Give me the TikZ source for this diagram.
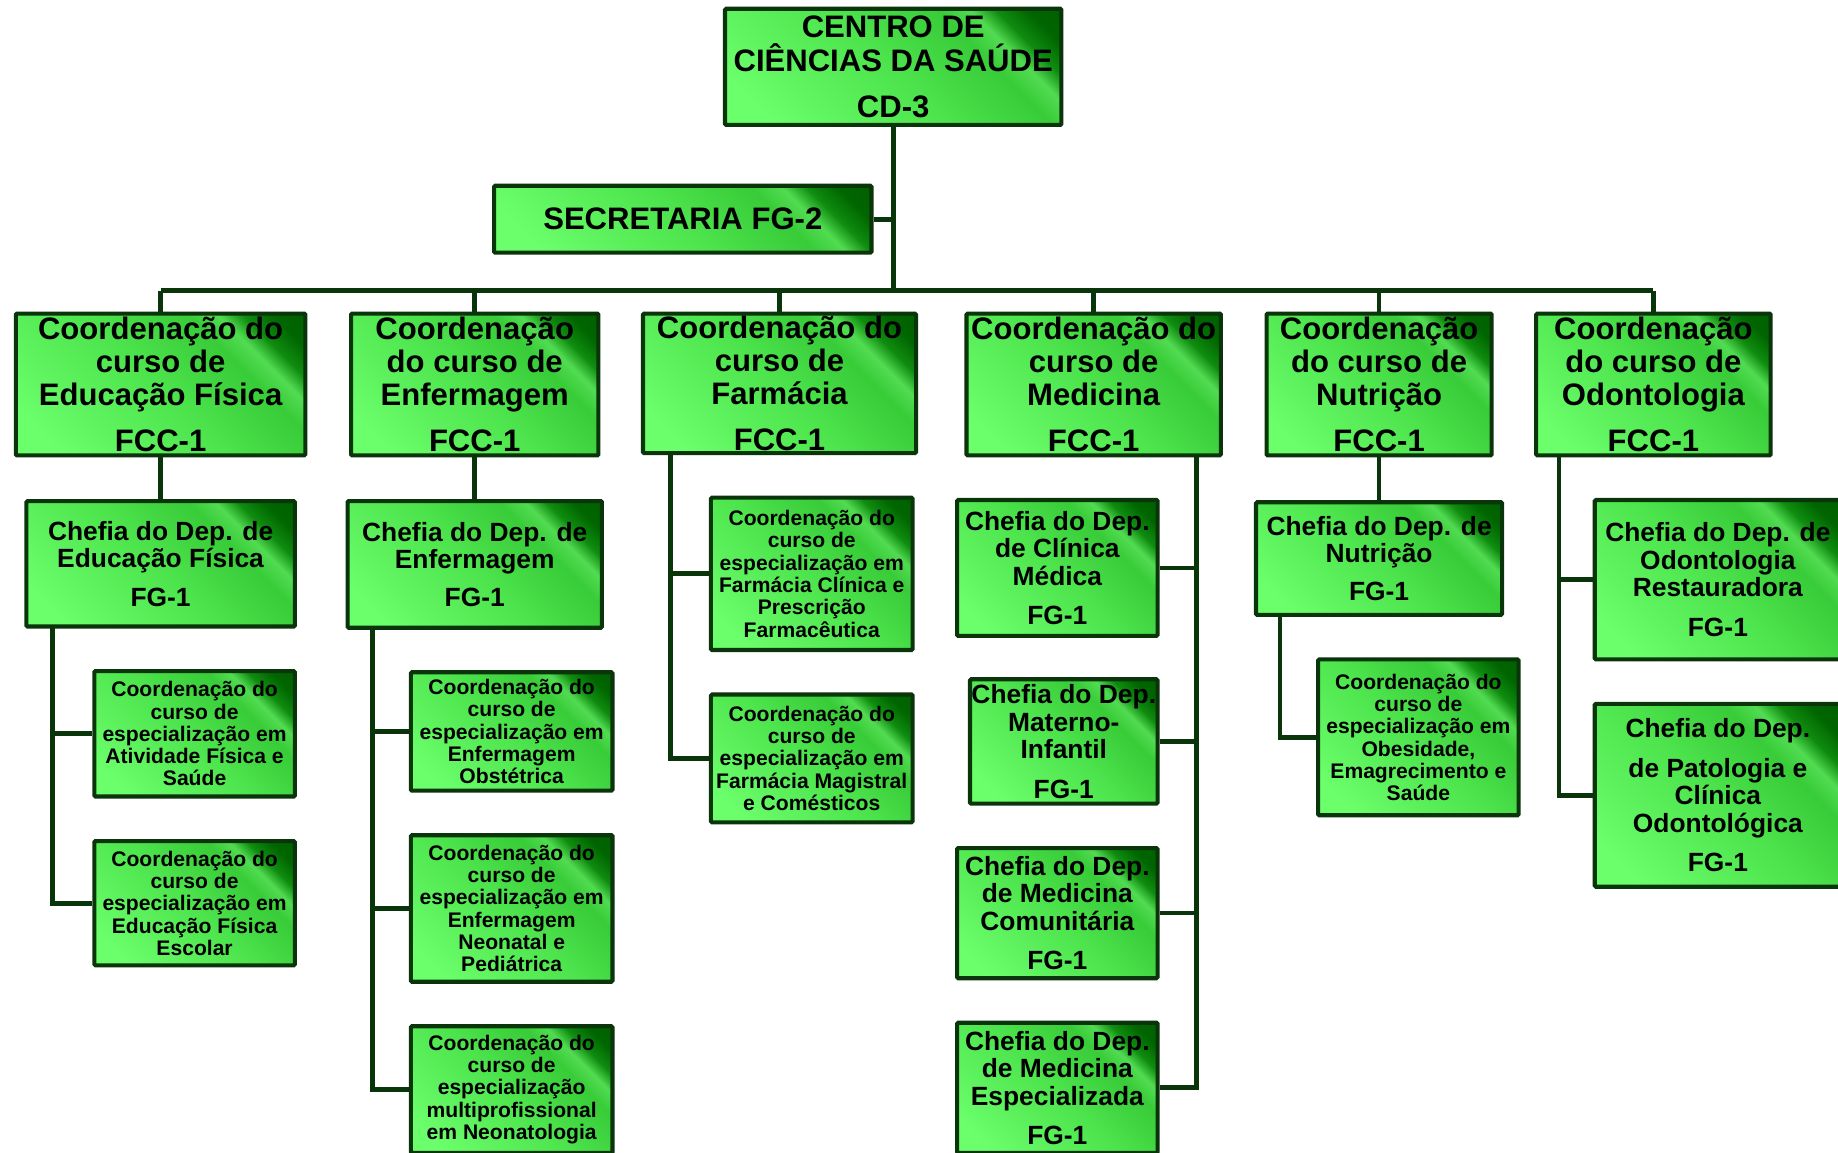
\documentclass[tikz,border=0pt]{standalone}
\usepackage{fontspec}
\setmainfont{Liberation Sans}
\pgfdeclarelayer{bg}
\pgfsetlayers{bg,main}
\definecolor{bord}{RGB}{10,52,10}
\pgfdeclarehorizontalshading{gbox}{100bp}{rgb(0bp)=(0.42,1,0.42); rgb(22bp)=(0.42,1,0.42); rgb(50bp)=(0.3,0.89,0.3); rgb(66bp)=(0.22,0.8,0.22); rgb(71bp)=(0.32,0.86,0.32); rgb(75bp)=(0.06,0.55,0.06); rgb(80bp)=(0,0.4,0); rgb(100bp)=(0,0.3,0)}
\tikzset{
  box/.style={draw=bord, line width=3.5pt, shade, shading=gbox, shading angle=45, rounded corners=1pt, inner sep=0pt, align=center, text=black},
  sz/.style 2 args={minimum width=#1pt, minimum height=#2pt},
  conn/.style={draw=bord, line width=4pt, line join=miter},
  fbig/.style={font=\bfseries\fontsize{26.5}{29}\selectfont},
  fmid/.style={font=\bfseries\fontsize{26.5}{28}\selectfont},
  fchef/.style={font=\bfseries\fontsize{22.5}{23.5}\selectfont},
  fsmall/.style={font=\bfseries\fontsize{18}{19}\selectfont},
}
\begin{document}
\begin{tikzpicture}[x=1pt,y=-1pt]
\useasboundingbox (0,0) rectangle (1568,983);
% top
\node[box,fbig,sz={287}{99}] (top) at (762,57) {CENTRO DE\\CIÊNCIAS DA SAÚDE\\[10pt]CD-3};
\node[box,fbig,sz={322}{57}] (sec) at (582.5,187) {SECRETARIA FG-2};
% level 2
\node[box,fmid,sz={247}{121}] (edf) at (137,328) {Coordenação do\\curso de\\Educação Física\\[11pt]FCC-1};
\node[box,fmid,sz={211}{121}] (enf) at (405,328) {Coordenação\\do curso de\\Enfermagem\\[11pt]FCC-1};
\node[box,fmid,sz={233}{119}] (far) at (665,327) {Coordenação do\\curso de\\Farmácia\\[11pt]FCC-1};
\node[box,fmid,sz={217}{121}] (med) at (933,328) {Coordenação do\\curso de\\Medicina\\[11pt]FCC-1};
\node[box,fmid,sz={192}{121}] (nut) at (1176.5,328) {Coordenação\\do curso de\\Nutrição\\[11pt]FCC-1};
\node[box,fmid,sz={200}{121}] (odo) at (1410.5,328) {Coordenação\\do curso de\\Odontologia\\[11pt]FCC-1};
% Educação Física
\node[box,fchef,sz={229}{107}] (edfc) at (137,481) {Chefia do Dep. de\\Educação Física\\[9pt]FG-1};
\node[box,fsmall,sz={171}{107}] (edf1) at (166,626) {Coordenação do\\curso de\\especialização em\\Atividade Física e\\Saúde};
\node[box,fsmall,sz={171}{106}] (edf2) at (166,770.5) {Coordenação do\\curso de\\especialização em\\Educação Física\\Escolar};
% Enfermagem
\node[box,fchef,sz={217}{108}] (enfc) at (405,481.5) {Chefia do Dep. de\\Enfermagem\\[9pt]FG-1};
\node[box,fsmall,sz={172}{101}] (enf1) at (436.5,624) {Coordenação do\\curso de\\especialização em\\Enfermagem\\Obstétrica};
\node[box,fsmall,sz={172}{125}] (enf2) at (436.5,775) {Coordenação do\\curso de\\especialização em\\Enfermagem\\Neonatal e\\Pediátrica};
\node[box,fsmall,sz={172}{108}] (enf3) at (436.5,929.5) {Coordenação do\\curso de\\especialização\\multiprofissional\\em Neonatologia};
% Farmácia
\node[box,fsmall,sz={172}{130}] (far1) at (692.5,489.5) {Coordenação do\\curso de\\especialização em\\Farmácia Clínica e\\Prescrição\\Farmacêutica};
\node[box,fsmall,sz={172}{109}] (far2) at (692.5,647) {Coordenação do\\curso de\\especialização em\\Farmácia Magistral\\e Comésticos};
% Medicina
\node[box,fchef,sz={171}{116}] (medc1) at (902,484.5) {Chefia do Dep.\\de Clínica\\Médica\\[10pt]FG-1};
\node[box,fchef,sz={160}{106}] (medc2) at (907.5,632.5) {Chefia do Dep.\\Materno-\\Infantil\\[10pt]FG-1};
\node[box,fchef,sz={171}{111}] (medc3) at (902,779) {Chefia do Dep.\\de Medicina\\Comunitária\\[10pt]FG-1};
\node[box,fchef,sz={171}{111}] (medc4) at (902,928) {Chefia do Dep.\\de Medicina\\Especializada\\[10pt]FG-1};
% Nutrição
\node[box,fchef,sz={210}{96}] (nutc) at (1176.5,476.5) {Chefia do Dep. de\\Nutrição\\[9pt]FG-1};
\node[box,fsmall,sz={171}{133}] (nut1) at (1210,629) {Coordenação do\\curso de\\especialização em\\Obesidade,\\Emagrecimento e\\Saúde};
% Odontologia
\node[box,fchef,sz={210}{136}] (odoc1) at (1465.5,494.5) {Chefia do Dep. de\\Odontologia\\Restauradora\\[10pt]FG-1};
\node[box,fchef,sz={210}{156}] (odoc2) at (1465.5,678.5) {Chefia do Dep.\\[10pt]de Patologia e\\Clínica\\Odontológica\\[10pt]FG-1};
% connectors
\coordinate (bus) at (762,248);
\coordinate (edfL) at (45,536);
\coordinate (enfL) at (318,537);
\coordinate (farL) at (572,388);
\coordinate (medL) at (1021,390);
\coordinate (nutL) at (1092,526);
\coordinate (odoL) at (1330,390);
\begin{pgfonlayer}{bg}
\draw[conn] (top.south) -- (bus);
\draw[conn] (sec.east) -- (sec.east -| top.south);
\draw[conn] (edf.north |- bus) -- (odo.north |- bus);
\foreach \n in {edf,enf,far,med,nut,odo}{\draw[conn] (\n.north) -- (\n.north |- bus);}
\draw[conn] (edf.south) -- (edfc.north);
\draw[conn] (edfL) |- (edf2.west);
\draw[conn] (edfL |- edf1.west) -- (edf1.west);
\draw[conn] (enf.south) -- (enfc.north);
\draw[conn] (enfL) |- (enf3.west);
\draw[conn] (enfL |- enf1.west) -- (enf1.west);
\draw[conn] (enfL |- enf2.west) -- (enf2.west);
\draw[conn] (farL) |- (far2.west);
\draw[conn] (farL |- far1.west) -- (far1.west);
\draw[conn] (medL) |- (medc4.east);
\draw[conn] (medL |- medc1.east) -- (medc1.east);
\draw[conn] (medL |- medc2.east) -- (medc2.east);
\draw[conn] (medL |- medc3.east) -- (medc3.east);
\draw[conn] (nut.south) -- (nutc.north);
\draw[conn] (nutL) |- (nut1.west);
\draw[conn] (odoL) |- (odoc2.west);
\draw[conn] (odoL |- odoc1.west) -- (odoc1.west);
\end{pgfonlayer}
\end{tikzpicture}
\end{document}
